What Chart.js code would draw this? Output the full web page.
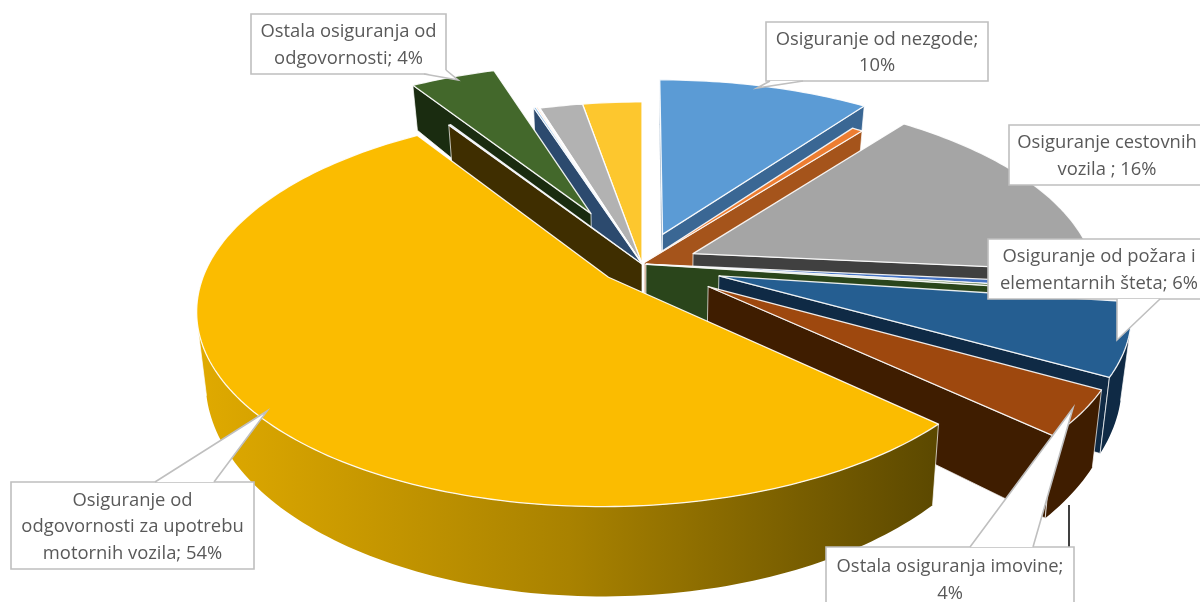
<!DOCTYPE html>
<html>
<head>
<meta charset="utf-8">
<script src="https://cdn.jsdelivr.net/npm/chart.js@4/dist/chart.umd.min.js"></script>
<style>
    html, body { margin: 0; padding: 0; background: #fff; overflow: hidden; }
    canvas { display: block; }
</style>
</head>
<body>
<canvas id="pieChart" width="1200" height="602"></canvas>
<script>
const categories = [
    'Osiguranje od nezgode', 'Zdravstveno osiguranje', 'Osiguranje cestovnih vozila',
    'Osiguranje tračnih vozila', 'Osiguranje zračnih letjelica',
    'Osiguranje od požara i elementarnih šteta', 'Ostala osiguranja imovine',
    'Osiguranje od odgovornosti za upotrebu motornih vozila', 'Osiguranje od odgovornosti za letjelice',
    'Ostala osiguranja od odgovornosti', 'Osiguranje kredita', 'Osiguranje jamstava',
    'Osiguranje troškova', 'Putno osiguranje', 'Ostalo'
];
const shares = [10, 0.5, 16, 0.4, 0.2, 6, 3.8, 53.9, 0.1, 4.1, 0.1, 0.08, 0.07, 2.0, 2.75];

// explosion of each slice, percent of the radius
const explodePct = [17, 1, 14, 1, 1, 20, 20, 10.8, 0, 31, 1, 1, 1, 0, 0];
const topColors = ['#5b9bd5', '#ed7d31', '#a5a5a5', '#4472c4', '#2f5218', '#255e91', '#9e480e', '#fbbc00',
    '#8ea9db', '#43682b', '#6fa8dc', '#f4a671', '#eeeeee', '#b2b2b2', '#fdc72e'];
const wallColors = ['#3a6794', '#a5541b', '#404040', '#2a451b', '#2a451b', '#0f2a45', '#3f1d00', null,
    '#3f2e00', '#1a2c10', '#2c4a6e', '#2c4a6e', '#2c4a6e', '#2c4a6e', '#2c4a6e'];

const calloutFont = '18.4px "Open Sans"';
const callouts = [
    { lines: ['Ostala osiguranja od', 'odgovornosti; 4%'], box: [251, 14, 195, 60], tail: [[424, 74], [458, 80], [446, 70]] },
    { lines: ['Osiguranje od nezgode;', '10%'], box: [766, 22, 222, 59], tail: [[803, 81], [757, 88], [770, 81]] },
    { lines: ['Osiguranje cestovnih', 'vozila ; 16%'], box: [1009, 125, 205, 60], tail: null, textX: 1107 },
    { lines: ['Osiguranje od požara i', 'elementarnih šteta; 6%'], box: [988, 239, 230, 60], tail: [[1160, 299], [1117, 340], [1117, 299]], textX: 1099 },
    { lines: ['Ostala osiguranja imovine;', '4%'], box: [826, 547, 248, 60], tail: [[1033, 547], [1073, 408], [970, 547]], textX: 950, dy: 2 },
    { lines: ['Osiguranje od', 'odgovornosti za upotrebu', 'motornih vozila; 54%'], box: [11, 482, 243, 87], tail: [[214, 482], [267, 411], [155, 482]] }
];

// perspective of the disc: top plane at z=0, bottom plane at z=1
const view = { cx: 642, cy: 264, a: 401, b: 188, a2: 393, b2: 208, depth: 64, p: 0.16 };

function project(u, v, z) {
    const w = 1 - view.p * v;
    const a = view.a + (view.a2 - view.a) * z;
    const b = view.b + (view.b2 - view.b) * z;
    return [view.cx + a * u / w, view.cy + view.depth * z + b * v / w];
}

function sliceOutline(arc) {
    const start = arc.startAngle + Math.PI / 2;
    const end = arc.endAngle + Math.PI / 2;
    const mid = (start + end) / 2;
    const o = (arc.options.offset || 0) / 100;
    const ou = o * Math.sin(mid);
    const ov = -o * Math.cos(mid);
    const pts = [[ou, ov]];
    const steps = Math.max(2, Math.ceil((end - start) / 0.02));
    for (let i = 0; i <= steps; i++) {
        const t = start + (end - start) * i / steps;
        pts.push([ou + Math.sin(t), ov - Math.cos(t)]);
    }
    return { pts, mid };
}

function tracePolygon(ctx, pts) {
    ctx.beginPath();
    pts.forEach((p, i) => i ? ctx.lineTo(p[0], p[1]) : ctx.moveTo(p[0], p[1]));
    ctx.closePath();
}

function quadArea(q) {
    let s = 0;
    for (let i = 0; i < q.length; i++) {
        const n = q[(i + 1) % q.length];
        s += q[i][0] * n[1] - n[0] * q[i][1];
    }
    return s;
}

function drawSlice(ctx, arc, index) {
    const outline = sliceOutline(arc).pts;
    const n = outline.length;
    let wallFill = wallColors[index];
    if (!wallFill) {
        wallFill = ctx.createLinearGradient(197, 0, 940, 0);
        wallFill.addColorStop(0, '#e0aa00');
        wallFill.addColorStop(0.5, '#a98200');
        wallFill.addColorStop(1, '#5b4800');
    }

    const faces = [];
    let run = null;
    for (let i = 0; i < n; i++) {
        const a = outline[i];
        const b = outline[(i + 1) % n];
        const top = [project(a[0], a[1], 0), project(b[0], b[1], 0)];
        const bottom = [project(b[0], b[1], 1), project(a[0], a[1], 1)];
        const radial = i === 0 || i === n - 1;
        if (quadArea([...top, ...bottom]) >= 0) {
            run = null;
        } else if (radial) {
            faces.push({ top, bottom: bottom.slice(), radial: true });
            run = null;
        } else if (run) {
            run.top.push(top[1]);
            run.bottom.unshift(bottom[0]);
        } else {
            run = { top: top.slice(), bottom: bottom.slice(), radial: false };
            faces.push(run);
        }
    }
    const meanY = f => f.top.reduce((s, p) => s + p[1], 0) / f.top.length;
    faces.sort((p, q) => meanY(p) - meanY(q));
    faces.forEach(face => {
        tracePolygon(ctx, [...face.top, ...face.bottom]);
        ctx.fillStyle = wallFill;
        ctx.fill();
        ctx.strokeStyle = 'rgba(255,255,255,0.7)';
        ctx.lineWidth = 1;
        if (face.radial) {
            ctx.stroke();
        } else {
            // only the two upright ends of the rim get a light edge
            const first = [face.top[0], face.bottom[face.bottom.length - 1]];
            const last = [face.top[face.top.length - 1], face.bottom[0]];
            [first, last].forEach(edge => {
                ctx.beginPath();
                ctx.moveTo(edge[0][0], edge[0][1]);
                ctx.lineTo(edge[1][0], edge[1][1]);
                ctx.stroke();
            });
        }
    });

    tracePolygon(ctx, outline.map(p => project(p[0], p[1], 0)));
    ctx.fillStyle = topColors[index];
    ctx.fill();
    ctx.strokeStyle = 'rgba(255,255,255,0.9)';
    ctx.lineWidth = 1.3;
    ctx.stroke();
}

function drawCallout(ctx, c) {
    const [x, y, w, h] = c.box;
    ctx.beginPath();
    ctx.rect(x, y, w, h);
    ctx.fillStyle = '#fff';
    ctx.fill();
    ctx.strokeStyle = '#bfbfbf';
    ctx.lineWidth = 1.6;
    ctx.stroke();
    if (c.tail) {
        tracePolygon(ctx, c.tail);
        ctx.fill();
        ctx.beginPath();
        ctx.moveTo(c.tail[0][0], c.tail[0][1]);
        ctx.lineTo(c.tail[1][0], c.tail[1][1]);
        ctx.lineTo(c.tail[2][0], c.tail[2][1]);
        ctx.stroke();
    }
    ctx.fillStyle = '#595959';
    ctx.font = calloutFont;
    ctx.textAlign = 'center';
    ctx.textBaseline = 'middle';
    const lineHeight = 26.5;
    const textX = c.textX || x + w / 2;
    const top = y + h / 2 - (c.lines.length - 1) * lineHeight / 2 + 1.5 + (c.dy || 0);
    c.lines.forEach((line, i) => ctx.fillText(line, textX, top + i * lineHeight));
}

const perspectivePie = {
    id: 'perspectivePie',
    beforeDatasetsDraw(chart) {
        const ctx = chart.ctx;
        const arcs = chart.getDatasetMeta(0).data;
        const order = arcs.map((arc, i) => i).sort((p, q) =>
            -Math.cos(sliceOutline(arcs[p]).mid) + Math.cos(sliceOutline(arcs[q]).mid));
        ctx.save();
        ctx.lineJoin = 'round';
        order.forEach(i => drawSlice(ctx, arcs[i], i));
        ctx.restore();
        return false;
    },
    afterDraw(chart) {
        const ctx = chart.ctx;
        ctx.save();
        ctx.strokeStyle = '#000';
        ctx.lineWidth = 1.5;
        ctx.beginPath();
        ctx.moveTo(1069, 505);
        ctx.lineTo(1069, 548);
        ctx.stroke();
        callouts.forEach(c => drawCallout(ctx, c));
        ctx.restore();
    }
};

new Chart(document.getElementById('pieChart'), {
    type: 'pie',
    data: {
        labels: categories,
        datasets: [{ data: shares, backgroundColor: topColors, offset: explodePct, borderWidth: 0 }]
    },
    options: {
        responsive: false,
        animation: false,
        devicePixelRatio: 1,
        plugins: { legend: { display: false }, tooltip: { enabled: false } }
    },
    plugins: [perspectivePie]
});
</script>
</body>
</html>
